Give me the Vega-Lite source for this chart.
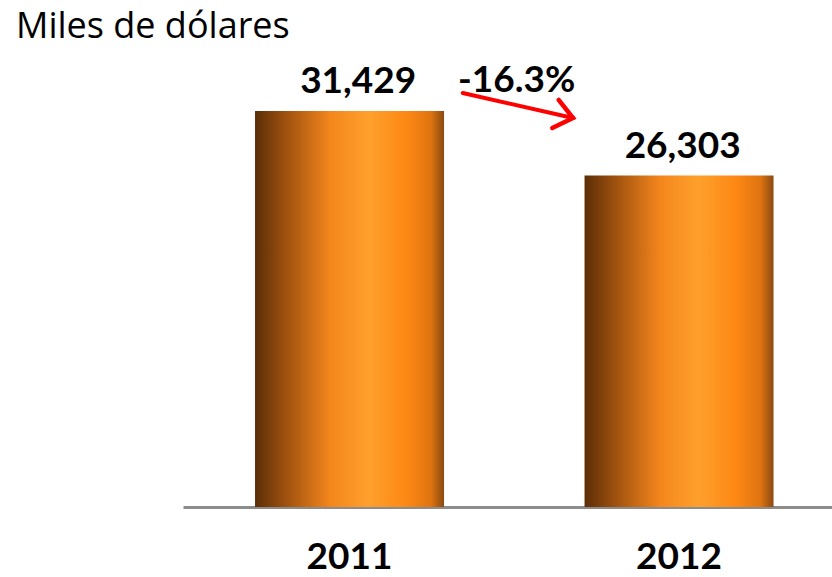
{
  "$schema": "https://vega.github.io/schema/vega-lite/v6.json",
  "width": 649,
  "height": 441,
  "autosize": {"type": "none"},
  "padding": {"left": 183, "top": 66, "right": 0, "bottom": 70},
  "config": {"view": {"stroke": null}, "font": "Lato"},
  "title": {
    "text": "Miles de dólares",
    "anchor": "start",
    "frame": "group",
    "dx": -167,
    "dy": 38,
    "offset": 26,
    "baseline": "alphabetic",
    "fontSize": 36,
    "fontWeight": "normal",
    "font": "Open Sans",
    "color": "#000000"
  },
  "datasets": {
    "bars": [
      {"year": "2011", "value": 31429},
      {"year": "2012", "value": 26303}
    ],
    "change": [{"label": "-16.3%", "px": 0.514, "v": 33800}],
    "arrow": [{"x": 0.431, "y": 32857, "x2": 0.601, "y2": 30873}]
  },
  "layer": [
    {
      "data": {"name": "bars"},
      "mark": {
        "type": "bar",
        "color": {
          "gradient": "linear",
          "x1": 0, "x2": 1, "y1": 0, "y2": 0,
          "stops": [
            {"offset": 0, "color": "#5a2e06"},
            {"offset": 0.15, "color": "#9a4e0e"},
            {"offset": 0.4, "color": "#f4861c"},
            {"offset": 0.6, "color": "#ffa02c"},
            {"offset": 0.8, "color": "#fd8814"},
            {"offset": 0.93, "color": "#e07410"},
            {"offset": 1, "color": "#8a4a12"}
          ]
        }
      },
      "encoding": {
        "x": {
          "field": "year",
          "type": "nominal",
          "scale": {"paddingInner": 0.4264, "paddingOuter": 0.198, "align": 0.552},
          "axis": {
            "title": null,
            "labelAngle": 0,
            "labelFontSize": 37,
            "labelFontWeight": "bold",
            "labelColor": "#000000",
            "labelBaseline": "alphabetic",
            "labelPadding": 61,
            "ticks": false,
            "domainColor": "#8c8c8c",
            "domainWidth": 3,
            "grid": false
          }
        },
        "y": {
          "field": "value",
          "type": "quantitative",
          "scale": {"domain": [0, 35000]},
          "axis": null
        }
      }
    },
    {
      "data": {"name": "bars"},
      "mark": {
        "type": "text",
        "fontSize": 37,
        "fontWeight": "bold",
        "baseline": "alphabetic",
        "dy": -18,
        "dx": -4,
        "color": "#000000"
      },
      "encoding": {
        "x": {
          "field": "year",
          "type": "nominal",
          "scale": {"paddingInner": 0.4264, "paddingOuter": 0.198, "align": 0.552},
          "axis": null
        },
        "y": {"field": "value", "type": "quantitative", "scale": {"domain": [0, 35000]}, "axis": null},
        "text": {"field": "value", "type": "quantitative", "format": ","}
      }
    },
    {
      "data": {"name": "arrow"},
      "mark": {"type": "rule", "color": "#ff0000", "strokeWidth": 4, "strokeCap": "round"},
      "encoding": {
        "x": {"field": "x", "type": "quantitative", "scale": {"domain": [0, 1]}, "axis": null},
        "x2": {"field": "x2"},
        "y": {"field": "y", "type": "quantitative", "scale": {"domain": [0, 35000]}, "axis": null},
        "y2": {"field": "y2"}
      }
    },
    {
      "data": {"name": "arrow"},
      "mark": {
        "type": "point",
        "shape": "M-1,-0.8L0,0L-1,0.8",
        "filled": false,
        "stroke": "#ff0000",
        "strokeWidth": 4.5,
        "strokeCap": "round",
        "strokeJoin": "miter",
        "size": 1300,
        "angle": 12.8,
        "opacity": 1
      },
      "encoding": {
        "x": {"field": "x2", "type": "quantitative", "scale": {"domain": [0, 1]}, "axis": null},
        "y": {"field": "y2", "type": "quantitative", "scale": {"domain": [0, 35000]}, "axis": null}
      }
    },
    {
      "data": {"name": "change"},
      "mark": {"type": "text", "fontSize": 37, "fontWeight": "bold", "baseline": "middle", "color": "#000000"},
      "encoding": {
        "x": {"field": "px", "type": "quantitative", "scale": {"domain": [0, 1]}, "axis": null},
        "y": {"field": "v", "type": "quantitative", "scale": {"domain": [0, 35000]}, "axis": null},
        "text": {"field": "label"}
      }
    }
  ],
  "resolve": {"scale": {"x": "independent"}}
}
